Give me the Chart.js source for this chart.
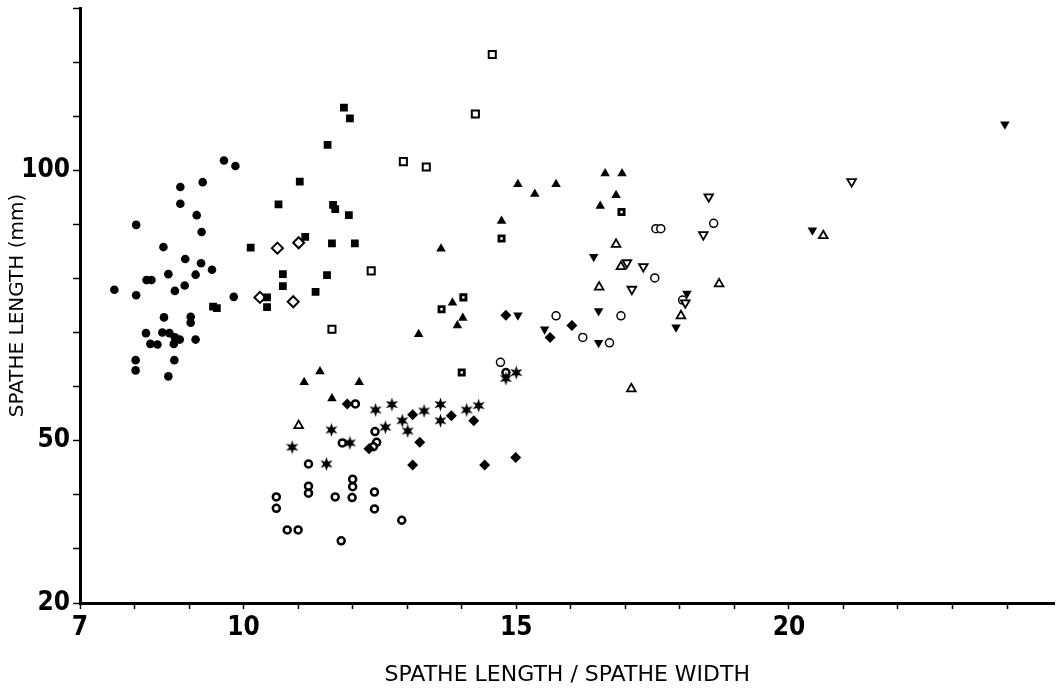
<!DOCTYPE html>
<html>
<head>
<meta charset="utf-8">
<script src="https://cdn.jsdelivr.net/npm/chart.js@4"></script>
<style>
  html, body { margin: 0; padding: 0; background: #fff; }
  #wrap { width: 1062px; height: 688px; }
</style>
</head>
<body>
<div id="wrap"><canvas id="chart"></canvas></div>
<script>
// values: x = spathe length / spathe width, y = spathe length (mm)
const filledCircleX = [9.64, 9.85, 9.25, 8.84, 8.84, 9.14, 8.03, 9.23, 8.53, 8.93, 9.22, 9.42, 8.62, 9.12, 8.22, 8.31, 8.92, 8.74, 7.63, 8.03, 9.82, 8.54, 9.03, 9.03, 8.21, 8.51, 8.64, 8.74, 8.83, 8.72, 8.29, 8.42, 9.12, 8.02, 8.73, 8.02, 8.62];
const filledCircleY = [101.8, 100.8, 97.8, 96.9, 93.8, 91.7, 89.9, 88.6, 85.8, 83.6, 82.8, 81.6, 80.8, 80.7, 79.7, 79.7, 78.7, 77.7, 77.9, 76.9, 76.6, 72.8, 72.9, 71.8, 69.9, 70.0, 69.9, 69.1, 68.7, 67.9, 67.9, 67.8, 68.7, 64.9, 64.9, 63.0, 61.9];

const filledSquareX = [11.84, 11.95, 11.54, 11.03, 10.64, 11.64, 11.68, 11.93, 11.13, 11.62, 12.04, 10.13, 10.72, 11.53, 10.72, 11.32, 10.43, 10.43, 9.44, 9.51];
const filledSquareY = [111.6, 109.6, 104.7, 97.9, 93.7, 93.6, 92.8, 91.7, 87.7, 86.5, 86.5, 85.7, 80.8, 80.6, 78.6, 77.5, 76.5, 74.7, 74.8, 74.5];

const openDiamondX = [10.62, 11.01, 10.30, 10.91];
const openDiamondY = [85.6, 86.6, 76.5, 75.7];

const openSquareX = [14.56, 14.25, 12.93, 13.35, 12.34, 11.62];
const openSquareY = [121.4, 110.4, 101.6, 100.6, 81.4, 70.6];

const dotSquareX = [14.73, 14.03, 13.63, 14.0, 16.93];
const dotSquareY = [87.4, 76.5, 74.3, 62.6, 92.3];

const filledTriUpX = [15.03, 15.34, 15.73, 14.73, 13.62, 13.83, 14.02, 13.92, 13.21, 16.63, 16.94, 16.83, 16.54, 11.40, 11.11, 12.12, 11.62];
const filledTriUpY = [97.4, 95.6, 97.4, 90.6, 85.5, 75.5, 72.7, 71.3, 69.7, 99.4, 99.4, 95.4, 93.4, 62.8, 60.8, 60.8, 57.8];

const openTriUpX = [11.01, 16.83, 16.92, 16.52, 18.02, 18.72, 17.11, 20.63];
const openTriUpY = [52.8, 86.3, 82.2, 78.4, 73.1, 79.0, 59.6, 87.9];

const filledTriDownX = [16.42, 15.03, 16.51, 15.52, 16.51, 18.13, 17.93, 20.43, 23.96];
const filledTriDownY = [84.0, 73.2, 74.0, 70.6, 68.1, 77.2, 71.0, 88.9, 108.5];

const openTriDownX = [18.53, 18.43, 17.03, 17.33, 17.12, 21.15, 18.10];
const openTriDownY = [95.1, 88.1, 82.9, 82.2, 78.0, 97.9, 75.5];

const openCircleX = [17.56, 17.65, 18.62, 17.54, 16.92, 15.73, 16.22, 16.71, 14.71, 18.05];
const openCircleY = [89.2, 89.2, 90.2, 80.1, 73.1, 73.1, 69.1, 68.1, 64.5, 76.0];

const filledDiamondX = [14.81, 15.62, 16.02, 11.90, 13.10, 13.81, 14.22, 13.23, 12.30, 13.10, 14.42, 14.99];
const filledDiamondY = [73.2, 69.1, 71.3, 56.8, 54.8, 54.6, 53.7, 49.7, 48.5, 45.5, 45.5, 46.9];

const starX = [10.89, 11.52, 11.61, 11.95, 12.42, 12.72, 12.60, 12.91, 13.01, 13.31, 13.61, 13.61, 14.09, 14.31, 14.81, 15.00];
const starY = [48.8, 45.7, 52.0, 49.6, 55.7, 56.7, 52.5, 53.7, 51.8, 55.5, 56.7, 53.7, 55.7, 56.5, 61.5, 62.6];

const ringX = [12.05, 12.41, 11.81, 12.44, 12.38, 11.19, 11.19, 11.19, 12.0, 12.0, 10.60, 10.60, 11.68, 11.99, 12.40, 12.40, 12.90, 10.80, 11.0, 11.79, 14.81];
const ringY = [56.8, 51.7, 49.6, 49.7, 48.9, 45.7, 41.6, 40.3, 42.9, 41.5, 39.6, 37.5, 39.6, 39.5, 40.5, 37.4, 35.3, 33.5, 33.5, 31.5, 62.6];

const xLabeled = [7, 10, 15, 20];
const yLabeled = [20, 50, 100];

const zip = (xs, ys) => xs.map((x, i) => ({ x: x, y: ys[i] }));

const makeStar = () => {
  const c = document.createElement("canvas");
  c.width = 15;
  c.height = 15;
  const g = c.getContext("2d");
  g.fillStyle = "#000";
  g.beginPath();
  for (let i = 0; i < 12; i++) {
    const r = i % 2 === 0 ? 7 : 3;
    const a = -Math.PI / 2 + i * Math.PI / 6;
    const px = 7.5 + r * Math.cos(a);
    const py = 7.5 + r * Math.sin(a);
    if (i === 0) g.moveTo(px, py); else g.lineTo(px, py);
  }
  g.closePath();
  g.fill();
  return c;
};

const mk = (xs, ys, style, radius, filled, bw, rotation) => ({
  data: zip(xs, ys),
  pointStyle: style,
  pointRadius: radius,
  pointRotation: rotation || 0,
  pointBackgroundColor: filled ? "#000" : "#fff",
  pointBorderColor: "#000",
  pointBorderWidth: bw,
  showLine: false,
});

const datasets = [
  mk(filledCircleX, filledCircleY, "circle", 4.3, true, 0),
  mk(filledSquareX, filledSquareY, "rect", 5.5, true, 0),
  mk(openDiamondX, openDiamondY, "rectRot", 5.5, false, 2),
  mk(openSquareX, openSquareY, "rect", 5, false, 2),
  mk(dotSquareX, dotSquareY, "rect", 3.7, false, 2.8),
  mk(filledTriUpX, filledTriUpY, "triangle", 5.5, true, 0),
  mk(openTriUpX, openTriUpY, "triangle", 5, false, 1.8),
  mk(filledTriDownX, filledTriDownY, "triangle", 5.5, true, 0, 180),
  mk(openTriDownX, openTriDownY, "triangle", 5, false, 1.8, 180),
  mk(openCircleX, openCircleY, "circle", 4, false, 1.5),
  mk(filledDiamondX, filledDiamondY, "rectRot", 5.5, true, 0),
  mk(starX, starY, makeStar(), 6, true, 0),
  mk(ringX, ringY, "circle", 3.5, false, 2.5),
];

const tickFont = { family: "'Liberation Sans Narrow', 'DejaVu Sans Condensed', sans-serif", size: 26, weight: "bold" };

new Chart(document.getElementById("chart"), {
  type: "scatter",
  data: { datasets: datasets },
  options: {
    responsive: true,
    maintainAspectRatio: false,
    animation: false,
    events: [],
    layout: { padding: { top: 8, right: 0, left: 0, bottom: 0 } },
    plugins: { legend: { display: false }, tooltip: { enabled: false } },
    scales: {
      x: {
        type: "linear",
        min: 7,
        max: 24.87,
        afterFit: (scale) => {
          scale.height = 85;
          scale.paddingLeft = 0;
          scale.paddingRight = 0;
        },
        ticks: {
          stepSize: 1,
          autoSkip: false,
          includeBounds: false,
          maxRotation: 0,
          color: "#000",
          font: tickFont,
          padding: 4,
          callback: (v) => (xLabeled.includes(v) ? String(v) : ""),
        },
        grid: { drawOnChartArea: false, tickLength: 6, tickWidth: 1.5, tickColor: "#000" },
        border: { display: true, color: "#000", width: 3 },
        title: {
          display: true,
          text: "SPATHE LENGTH / SPATHE WIDTH",
          color: "#000",
          font: { family: "'DejaVu Sans', sans-serif", size: 22 },
          padding: { top: 0, bottom: 0 },
        },
      },
      y: {
        type: "linear",
        min: 20,
        max: 130,
        afterFit: (scale) => {
          scale.width = 80;
          scale.paddingTop = 0;
          scale.paddingBottom = 0;
        },
        ticks: {
          stepSize: 10,
          autoSkip: false,
          color: "#000",
          font: tickFont,
          padding: 3,
          callback: (v) => (yLabeled.includes(v) ? String(v) : ""),
        },
        grid: { drawOnChartArea: false, tickLength: 7, tickWidth: 1.5, tickColor: "#000" },
        border: { display: true, color: "#000", width: 3 },
        title: {
          display: true,
          text: "SPATHE LENGTH (mm)",
          color: "#000",
          font: { family: "'DejaVu Sans', sans-serif", size: 20 },
          padding: { top: 6, bottom: 0 },
        },
      },
    },
  },
});
</script>
</body>
</html>
